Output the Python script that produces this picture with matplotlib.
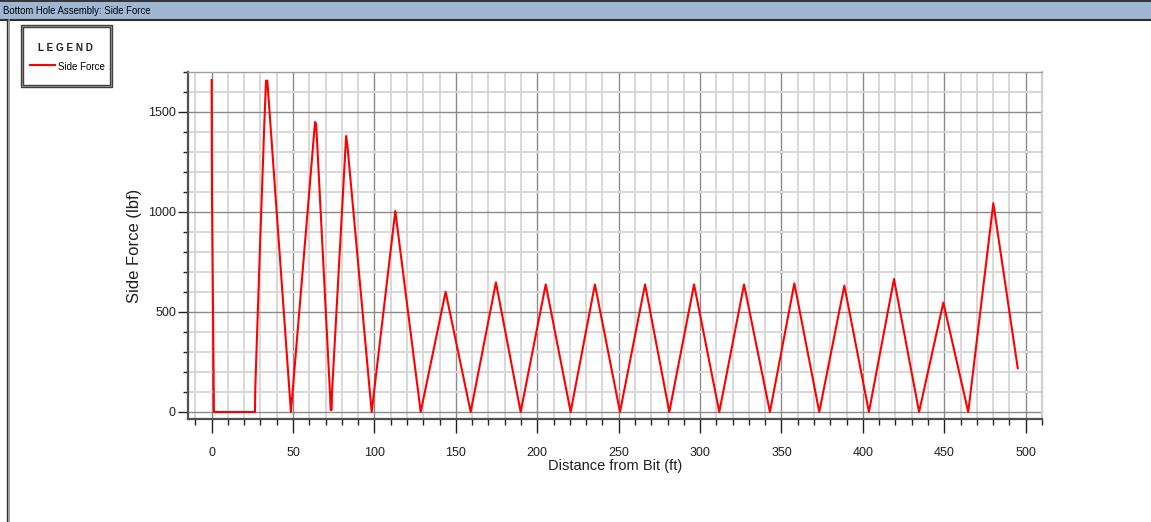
import matplotlib
matplotlib.use('Agg')
import matplotlib.pyplot as plt
from matplotlib import font_manager
from matplotlib.patches import Rectangle
from matplotlib.lines import Line2D
from matplotlib.ticker import MultipleLocator

# Data
dist = [0, 0.2, 0.8, 1.4, 26.6, 26.8, 29.7, 32.3, 33.4, 34.2, 48.7,
        63.5, 64.2, 72.7, 73.1, 73.7, 73.9, 82.6, 83.3, 98.3,
        112.8, 128.4, 143.7, 159.1, 174.6, 189.8, 205.2, 220.5, 235.4,
        250.8, 266.2, 281.1, 296.3, 311.8, 327.0, 342.9, 357.9, 373.2,
        388.6, 403.7, 419.1, 434.5, 449.4, 464.7, 480.1, 495.1]
force = [1660, 1100, 550, 0, 0, 118, 826, 1427, 1657, 1657, 0,
         1450, 1440, 93, 10, 10, 93, 1380, 1340, 0,
         1005, 0, 601, 0, 648, 0, 638, 0, 638,
         0, 638, 0, 638, 0, 638, 0, 643, 0,
         632, 0, 665, 0, 547, 0, 1044, 219]

x_ticks = [0, 50, 100, 150, 200, 250, 300, 350, 400, 450, 500]
y_ticks = [0, 500, 1000, 1500]

names = {f.name for f in font_manager.fontManager.ttflist}
narrow = 'Liberation Sans Narrow' if 'Liberation Sans Narrow' in names else 'Liberation Sans'
regular = 'Liberation Sans'

W, H = 1151, 522
fig = plt.figure(figsize=(W / 100, H / 100), dpi=100)
fig.patch.set_facecolor('white')

def fx(px):
    return px / W

def fy(py):
    return 1 - py / H

# window chrome
fig.add_artist(Rectangle((0, fy(20)), 1, fy(0) - fy(20), transform=fig.transFigure,
                         facecolor='#9fb7d3', edgecolor='none'))
fig.add_artist(Line2D([0, 1], [fy(1), fy(1)], transform=fig.transFigure, color='#202020', lw=1.2))
fig.add_artist(Line2D([0, 1], [fy(20), fy(20)], transform=fig.transFigure, color='#303030', lw=1.5))
fig.add_artist(Line2D([fx(7), fx(7)], [0, fy(20)], transform=fig.transFigure, color='#303030', lw=1.0))
fig.add_artist(Line2D([fx(8.5), fx(8.5)], [0, fy(20)], transform=fig.transFigure, color='#909090', lw=1.2))
fig.text(fx(3), fy(11), 'Bottom Hole Assembly: Side Force', family=narrow, fontsize=6.9,
         va='center', ha='left', color='black')

# legend box
fig.add_artist(Rectangle((fx(20.7), fy(87)), fx(91), fy(25) - fy(87), transform=fig.transFigure,
                         facecolor='#a8a8a8', edgecolor='#404040', lw=1.0))
fig.add_artist(Rectangle((fx(22.7), fy(85)), fx(87), fy(27) - fy(85), transform=fig.transFigure,
                         facecolor='white', edgecolor='#404040', lw=1.0))
fig.text(fx(65), fy(48), 'L E G E N D', family=regular, fontsize=7.2, ha='center', va='center',
         color='#202020', weight='bold')
fig.add_artist(Line2D([fx(29.5), fx(55)], [fy(64.5), fy(64.5)], transform=fig.transFigure,
                      color='red', lw=1.5))
fig.text(fx(58.5), fy(66.5), 'Side Force', family=narrow, fontsize=7.0, ha='left', va='center',
         color='black')

# plot area
ax = fig.add_axes([fx(187.7), fy(419), fx(1042) - fx(187.7), fy(72) - fy(419)])
ax.set_xlim(-14.7, 510)
ax.set_ylim(-35, 1700)

ax.xaxis.set_major_locator(MultipleLocator(50))
ax.xaxis.set_minor_locator(MultipleLocator(10))
ax.yaxis.set_major_locator(MultipleLocator(500))
ax.yaxis.set_minor_locator(MultipleLocator(100))
ax.set_xticks(x_ticks)
ax.set_yticks(y_ticks)

ax.grid(which='minor', color='#d8d8d8', lw=1.4)
ax.grid(which='major', color='#8a8a8a', lw=1.0)
ax.set_axisbelow(True)

ax.plot(dist, force, color='red', lw=1.5, zorder=3)

ax.tick_params(axis='x', which='major', length=10, width=1, color='#202020', pad=10,
               labelsize=9)
ax.tick_params(axis='x', which='minor', length=4.5, width=1, color='#202020')
ax.tick_params(axis='y', which='major', length=7.5, width=1, color='#202020', pad=1,
               labelsize=9)
ax.tick_params(axis='y', which='minor', length=3.8, width=1, color='#202020')
for lab in ax.get_xticklabels() + ax.get_yticklabels():
    lab.set_family(regular)
    lab.set_color('#202020')

ax.spines['left'].set_color('#505050')
ax.spines['left'].set_linewidth(1.6)
ax.spines['bottom'].set_color('#505050')
ax.spines['bottom'].set_linewidth(1.6)
ax.spines['top'].set_color('#a0a0a0')
ax.spines['top'].set_linewidth(1.0)
ax.spines['right'].set_color('#d0d0d0')
ax.spines['right'].set_linewidth(1.6)

ax.set_xlabel('Distance from Bit (ft)', family=narrow, fontsize=10.5, labelpad=0,
              color='#202020')
ax.set_ylabel('Side Force (lbf)', family=regular, fontsize=12, labelpad=4,
              color='#202020')

fig.savefig('out.png', dpi=100)
